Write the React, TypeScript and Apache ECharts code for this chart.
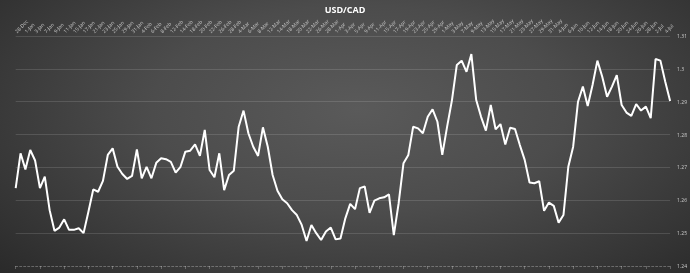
import React, { useEffect, useRef } from "react";
import * as echarts from "echarts";

const dates: string[] = [
  "28-Dec", "31-Dec",
  "1-Jan", "2-Jan", "3-Jan", "4-Jan", "7-Jan", "8-Jan", "9-Jan", "10-Jan", "11-Jan",
  "14-Jan", "15-Jan", "16-Jan", "17-Jan", "18-Jan", "21-Jan", "22-Jan", "23-Jan", "24-Jan", "25-Jan",
  "28-Jan", "29-Jan", "30-Jan", "31-Jan",
  "1-Feb", "4-Feb", "5-Feb", "6-Feb", "7-Feb", "8-Feb", "11-Feb", "12-Feb", "13-Feb", "14-Feb", "15-Feb",
  "18-Feb", "19-Feb", "20-Feb", "21-Feb", "22-Feb", "25-Feb", "26-Feb", "27-Feb", "28-Feb",
  "1-Mar", "4-Mar", "5-Mar", "6-Mar", "7-Mar", "8-Mar", "11-Mar", "12-Mar", "13-Mar", "14-Mar", "15-Mar",
  "18-Mar", "19-Mar", "20-Mar", "21-Mar", "22-Mar", "25-Mar", "26-Mar", "27-Mar", "28-Mar", "29-Mar",
  "1-Apr", "2-Apr", "3-Apr", "4-Apr", "5-Apr", "8-Apr", "9-Apr", "10-Apr", "11-Apr", "12-Apr",
  "15-Apr", "16-Apr", "17-Apr", "18-Apr", "19-Apr", "22-Apr", "23-Apr", "24-Apr", "25-Apr", "26-Apr",
  "29-Apr", "30-Apr",
  "1-May", "2-May", "3-May", "6-May", "7-May", "8-May", "9-May", "10-May", "13-May", "14-May", "15-May",
  "16-May", "17-May", "20-May", "21-May", "22-May", "23-May", "24-May", "27-May", "28-May", "29-May",
  "30-May", "31-May",
  "3-Jun", "4-Jun", "5-Jun", "6-Jun", "7-Jun", "10-Jun", "11-Jun", "12-Jun", "13-Jun", "14-Jun",
  "17-Jun", "18-Jun", "19-Jun", "20-Jun", "21-Jun", "24-Jun", "25-Jun", "26-Jun", "27-Jun", "28-Jun",
  "1-Jul", "2-Jul", "3-Jul", "4-Jul", "5-Jul",
];

const usdCad: number[] = [
  1.2637, 1.2743, 1.2694, 1.2753, 1.2721, 1.2637, 1.2672, 1.2570, 1.2507, 1.2517,
  1.2542, 1.2510, 1.2510, 1.2515, 1.2500, 1.2565, 1.2633, 1.2626, 1.2659, 1.2738,
  1.2758, 1.2702, 1.2680, 1.2665, 1.2674, 1.2755, 1.2667, 1.2702, 1.2667, 1.2714,
  1.2728, 1.2725, 1.2717, 1.2684, 1.2702, 1.2748, 1.2751, 1.2770, 1.2735, 1.2814,
  1.2692, 1.2670, 1.2743, 1.2631, 1.2677,
  1.2690, 1.2824, 1.2873, 1.2804, 1.2763, 1.2735, 1.2822, 1.2763, 1.2677, 1.2629,
  1.2603, 1.2591, 1.2570, 1.2555, 1.2525, 1.2476, 1.2525, 1.2500, 1.2479, 1.2505,
  1.2517, 1.2481, 1.2484, 1.2545, 1.2589, 1.2573, 1.2637, 1.2642, 1.2562, 1.2599,
  1.2606, 1.2609, 1.2618, 1.2494, 1.2591, 1.2713, 1.2738, 1.2824, 1.2819, 1.2804,
  1.2854, 1.2877, 1.2839, 1.2738, 1.2824, 1.2905,
  1.3012, 1.3025, 1.2991, 1.3045, 1.2905, 1.2854, 1.2812, 1.2890, 1.2816, 1.2832,
  1.2770, 1.2821, 1.2817, 1.2768, 1.2723, 1.2654, 1.2652, 1.2658, 1.2568, 1.2593,
  1.2583, 1.2532, 1.2555, 1.2702, 1.2763, 1.2900, 1.2946, 1.2887, 1.2951, 1.3025,
  1.2976, 1.2915, 1.2946, 1.2981, 1.2890, 1.2867, 1.2857, 1.2893, 1.2873, 1.2885,
  1.2850, 1.3030, 1.3025, 1.2961, 1.2902,
];

const yMin = 1.24;
const yMax = 1.31;
const yStep = 0.01;
const title = "USD/CAD";

export default function App() {
  const ref = useRef<HTMLDivElement>(null);
  useEffect(() => {
    const el = ref.current;
    if (!el) return;
    document.body.style.margin = "0";
    const chart = echarts.init(el, null, { renderer: "svg" });
    chart.setOption({
      animation: false,
      title: {
        text: title,
        left: "center",
        top: 0,
        textStyle: {
          color: "#ffffff",
          fontSize: 9,
          fontWeight: "bold",
          fontFamily: "Open Sans",
        },
      },
      grid: { left: 15.7, right: 16.7, top: 36, bottom: 7, containLabel: false },
      xAxis: [
        {
          type: "category",
          data: dates,
          position: "top",
          boundaryGap: false,
          axisLine: { show: false },
          axisTick: { show: false },
          axisLabel: {
            interval: 1,
            rotate: -45,
            fontSize: 5,
            color: "#c8c8c8",
            margin: 4,
            fontFamily: "Open Sans",
          },
          splitLine: { show: false },
        },
        {
          type: "category",
          data: dates,
          position: "bottom",
          boundaryGap: false,
          axisLine: {
            show: true,
            lineStyle: { color: "rgba(255,255,255,0.28)", type: [2, 2], width: 1 },
          },
          axisTick: {
            show: true,
            interval: 4,
            length: 3,
            lineStyle: { color: "rgba(255,255,255,0.25)" },
          },
          axisLabel: { show: false },
          splitLine: { show: false },
        },
      ],
      yAxis: {
        type: "value",
        position: "right",
        min: yMin,
        max: yMax,
        interval: yStep,
        axisLine: { show: false },
        axisTick: { show: false },
        axisLabel: {
          fontSize: 5,
          color: "#cfcfcf",
          margin: 7,
          fontFamily: "Open Sans",
          formatter: (v: number) => String(+v.toFixed(2)),
        },
        splitLine: {
          show: true,
          showMinLine: false,
          lineStyle: { color: "rgba(255,255,255,0.13)", width: 1 },
        },
      },
      series: [
        {
          type: "line",
          data: usdCad,
          xAxisIndex: 0,
          showSymbol: false,
          symbol: "none",
          lineStyle: { color: "#ffffff", width: 2 },
        },
      ],
    });
    return () => chart.dispose();
  }, []);
  return (
    <div
      ref={ref}
      style={{
        position: "fixed",
        left: 0,
        top: 0,
        width: 690,
        height: 273,
        background:
          "radial-gradient(ellipse 75% 95% at 52% 40%, #5a5a5a 0%, #4c4c4c 40%, #363636 75%, #262626 100%)",
      }}
    />
  );
}
